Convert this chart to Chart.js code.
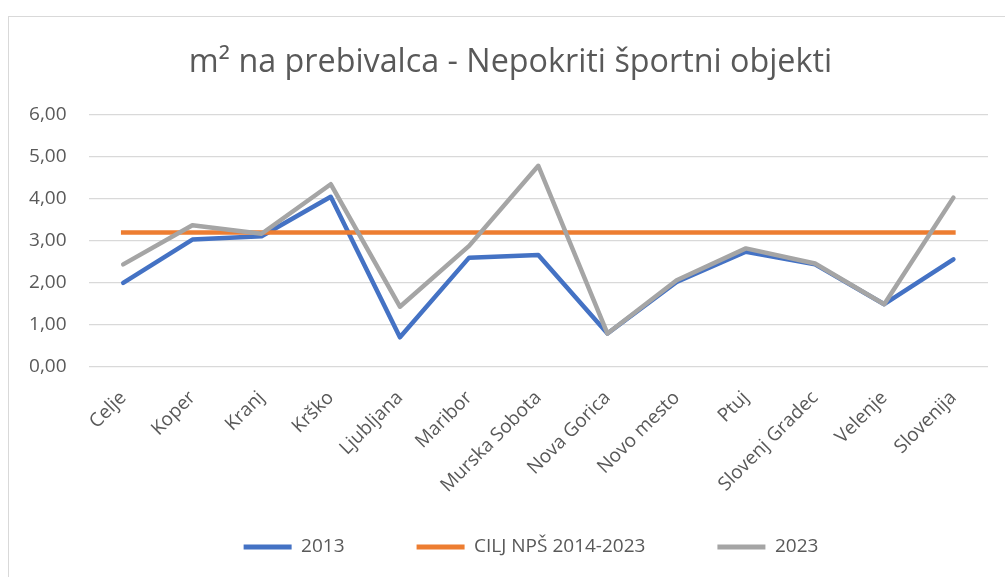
<!DOCTYPE html>
<html>
<head>
<meta charset="utf-8">
<script src="https://cdn.jsdelivr.net/npm/chart.js@4"></script>
<style>
  html, body { margin: 0; padding: 0; background: #fff; }
  #wrap { position: relative; width: 1005px; height: 577px; overflow: hidden; }
  #frame { position: absolute; left: 8px; top: 16px; width: 1100px; height: 700px; border: 1px solid #D9D9D9; box-sizing: border-box; }
  canvas { position: absolute; left: 0; top: 0; }
</style>
</head>
<body>
<div id="wrap">
  <div id="frame"></div>
  <canvas id="c" width="1005" height="577"></canvas>
</div>
<script>
const TITLE = 'm² na prebivalca - Nepokriti športni objekti';
const categories = ['Celje', 'Koper', 'Kranj', 'Krško', 'Ljubljana', 'Maribor', 'Murska Sobota', 'Nova Gorica', 'Novo mesto', 'Ptuj', 'Slovenj Gradec', 'Velenje', 'Slovenija'];
const values2013 = [2.00, 3.03, 3.11, 4.05, 0.70, 2.60, 2.66, 0.79, 2.02, 2.74, 2.44, 1.49, 2.56];
const valuesTarget = [3.20, 3.20, 3.20, 3.20, 3.20, 3.20, 3.20, 3.20, 3.20, 3.20, 3.20, 3.20, 3.20];
const values2023 = [2.44, 3.37, 3.17, 4.35, 1.43, 2.88, 4.79, 0.79, 2.06, 2.82, 2.46, 1.49, 4.03];
const seriesNames = ['2013', 'CILJ NPŠ 2014-2023', '2023'];
const yTickLabels = ['0,00', '1,00', '2,00', '3,00', '4,00', '5,00', '6,00'];

const FONT = "'Open Sans', sans-serif";
const TXT = '#595959';

const titlePlugin = {
  id: 'customTitle',
  beforeDraw(chart) {
    // let tick labels extend beyond their axis boxes (as in the reference)
    Object.values(chart.scales).forEach(s => { s._computeLabelArea = () => undefined; });
  },
  afterDraw(chart) {
    const ctx = chart.ctx;
    ctx.save();
    ctx.font = "32.3px 'Open Sans', sans-serif";
    ctx.fillStyle = TXT;
    ctx.textAlign = 'center';
    ctx.textBaseline = 'middle';
    ctx.fillText(TITLE, 510.5, 63);
    ctx.restore();
  }
};

new Chart(document.getElementById('c'), {
  type: 'line',
  data: {
    labels: categories,
    datasets: [
      { label: seriesNames[0], data: values2013, borderColor: '#4472C4', backgroundColor: '#4472C4', borderWidth: 4.5, pointRadius: 0, tension: 0, borderJoinStyle: 'round', borderCapStyle: 'round', order: 3 },
      { label: seriesNames[1], data: valuesTarget, borderColor: '#ED7D31', backgroundColor: '#ED7D31', borderWidth: 4.5, pointRadius: 0, tension: 0, borderCapStyle: 'square', order: 2 },
      { label: seriesNames[2], data: values2023, borderColor: '#A5A5A5', backgroundColor: '#A5A5A5', borderWidth: 4.5, pointRadius: 0, tension: 0, borderJoinStyle: 'round', borderCapStyle: 'round', order: 1 }
    ]
  },
  options: {
    responsive: false,
    animation: false,
    layout: { padding: { top: 115, left: 74, right: 17, bottom: 10.5 } },
    plugins: {
      title: { display: false },
      tooltip: { enabled: false },
      legend: {
        position: 'bottom',
        labels: {
          font: { family: FONT, size: 19 },
          color: TXT,
          boxWidth: 48,
          boxHeight: 5,
          padding: 72,
          sort: (a, b) => a.datasetIndex - b.datasetIndex,
          generateLabels: (chart) => Chart.defaults.plugins.legend.labels.generateLabels(chart).map(l => Object.assign(l, { lineWidth: 0 }))
        }
      }
    },
    scales: {
      x: {
        offset: true,
        grid: { display: false, drawTicks: false },
        border: { display: false },
        ticks: { font: { family: FONT, size: 19 }, color: TXT, minRotation: 45, maxRotation: 45, padding: 20, autoSkip: false },
        afterFit: (s) => { s.height = 98.8; }
      },
      y: {
        min: 0, max: 6,
        grid: { color: '#D9D9D9', lineWidth: 1.3, drawTicks: false },
        border: { display: false },
        ticks: { stepSize: 1, font: { family: FONT, size: 19 }, color: TXT, padding: 22,
          callback: (v) => yTickLabels[Math.round(v)] },
        afterFit: (s) => { s.width = 14.6; }
      }
    }
  },
  plugins: [titlePlugin]
});
</script>
</body>
</html>
